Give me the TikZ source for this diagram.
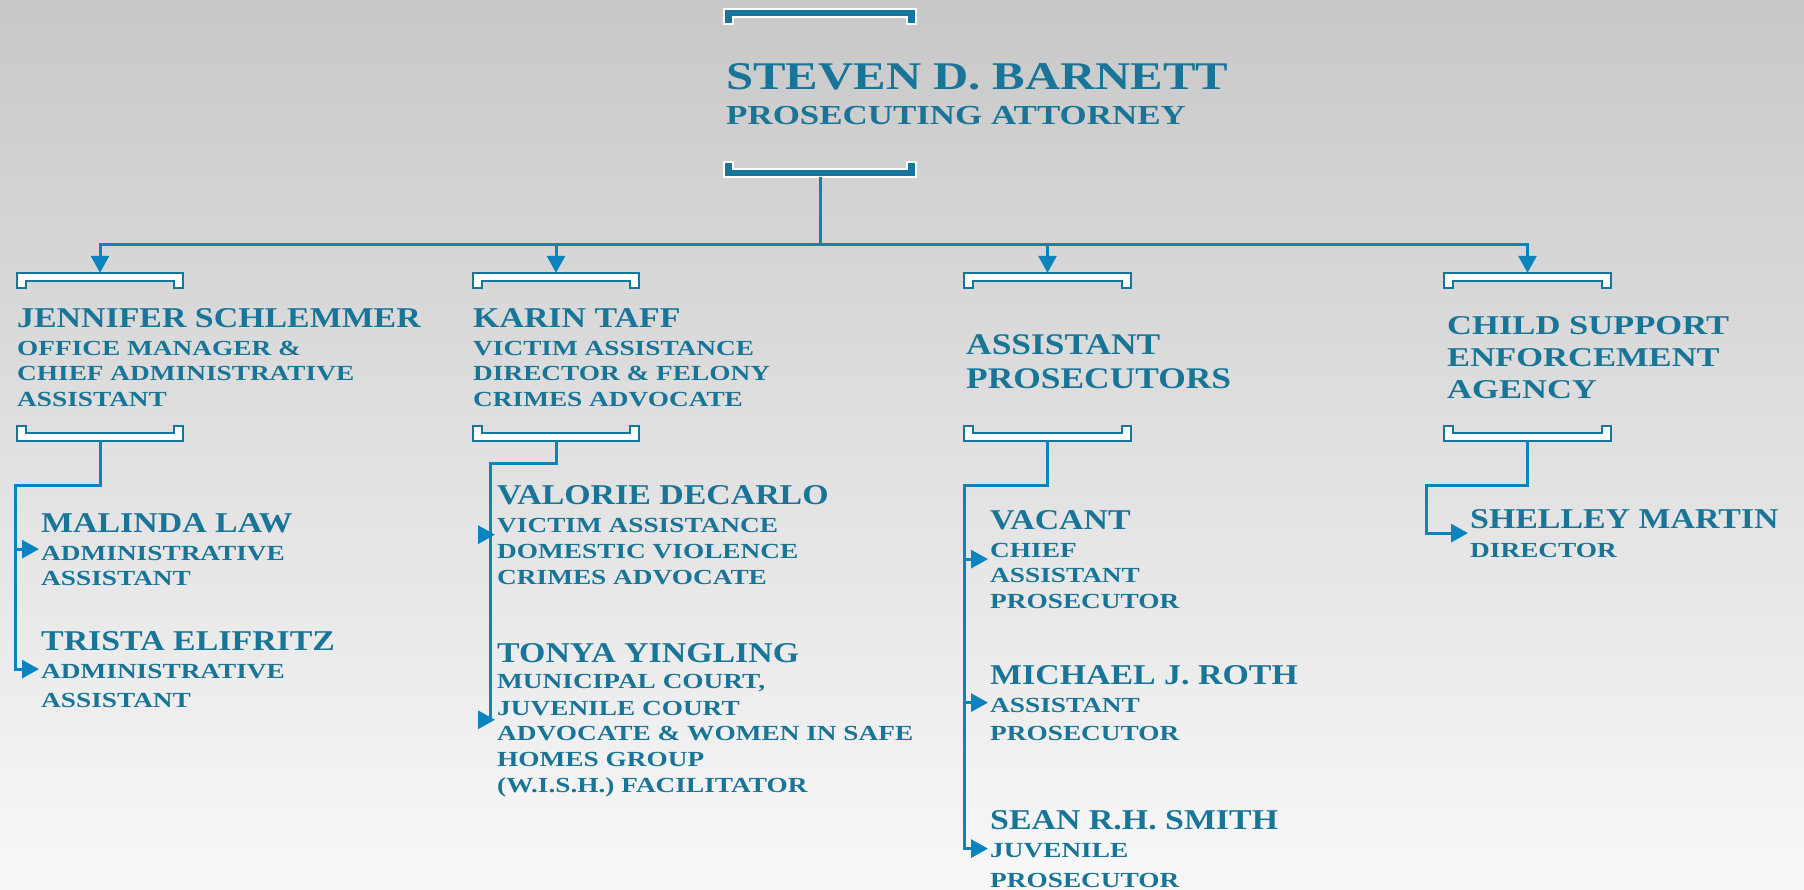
\documentclass[tikz,border=0pt]{standalone}
\usepackage{fontspec}
\setmainfont{Liberation Serif}
\newfontfamily\nameF{Liberation Serif}[FakeStretch=1.18]
\newfontfamily\wideF{Liberation Serif}[FakeStretch=1.27]
\newfontfamily\topFam{Liberation Serif}[FakeStretch=1.24]
\usetikzlibrary{arrows.meta}
\definecolor{textc}{RGB}{24,117,152}
\definecolor{linec}{RGB}{10,131,191}
\definecolor{brkc}{RGB}{21,117,155}
\definecolor{bgtop}{RGB}{200,200,200}
\definecolor{bgbot}{RGB}{248,248,248}
\newcommand\nmF{\nameF\bfseries\fontsize{28.7pt}{30pt}\selectfont}
\newcommand\ttF{\wideF\bfseries\fontsize{21.5pt}{24pt}\selectfont}
\newcommand\topF{\topFam\bfseries\fontsize{39.3pt}{40pt}\selectfont}
\newcommand\subF{\wideF\bfseries\fontsize{27.5pt}{30pt}\selectfont}
\newcommand\hdF{\nameF\bfseries\fontsize{30pt}{32pt}\selectfont}
\newcommand\hwF{\wideF\bfseries\fontsize{27.2pt}{30pt}\selectfont}
\newcommand\Blk[1]{\vtop{\lineskiplimit=-\maxdimen\lineskip=0pt #1}}
\newcommand\HL[3]{\baselineskip=#1pt\hbox{#2#3}}
\newcommand\TopBrk[4]{%
  \node[brbox,#4] (#1) at (#2) {};
  \draw[#3] (#1.north west) -- (#1.north east) -- (#1.south east)
    -- ([xshift=-9pt]#1.south east) -- ([xshift=-9pt,yshift=7pt]#1.south east)
    -- ([xshift=9pt,yshift=7pt]#1.south west) -- ([xshift=9pt]#1.south west)
    -- (#1.south west) -- cycle;}
\newcommand\BotBrk[4]{%
  \node[brbox,#4] (#1) at (#2) {};
  \draw[#3] (#1.south west) -- (#1.south east) -- (#1.north east)
    -- ([xshift=-9pt]#1.north east) -- ([xshift=-9pt,yshift=-7pt]#1.north east)
    -- ([xshift=9pt,yshift=-7pt]#1.north west) -- ([xshift=9pt]#1.north west)
    -- (#1.north west) -- cycle;}
\begin{document}
\begin{tikzpicture}[x=1pt,y=-1pt,
  conn/.style={draw=linec, line width=3pt},
  arr/.style={-{Triangle[length=17pt,width=18pt]}},
  brbox/.style={draw=none, inner sep=0pt, minimum width=166pt, minimum height=15pt},
  brhollow/.style={draw=brkc, fill=white, line width=2pt},
  brsolid/.style={draw=white, fill=brkc, line width=2pt},
  person/.style={anchor=base west, inner xsep=2pt, inner ysep=0pt, text=textc}]
\shade[top color=bgtop, bottom color=bgbot] (0,0) rectangle (1804,889);
\useasboundingbox (0,0) rectangle (1804,889);

% top
\TopBrk{mainT}{820,16.5}{brsolid}{minimum width=192pt}
\BotBrk{mainB}{820,169.5}{brsolid}{minimum width=192pt}
\node[person] (steven) at (724,89) {\Blk{\HL{0}{\topF}{STEVEN D. BARNETT}\HL{35}{\subF}{PROSECUTING ATTORNEY}}};

% level 2 brackets
\TopBrk{b1t}{100,280.5}{brhollow}{}
\BotBrk{b1b}{100,433.5}{brhollow}{}
\TopBrk{b2t}{556,280.5}{brhollow}{}
\BotBrk{b2b}{556,433.5}{brhollow}{}
\TopBrk{b3t}{1047.5,280.5}{brhollow}{}
\BotBrk{b3b}{1047.5,433.5}{brhollow}{}
\TopBrk{b4t}{1527.5,280.5}{brhollow}{}
\BotBrk{b4b}{1527.5,433.5}{brhollow}{}

% level 2 headers
\node[person] (jen) at (15,327) {\Blk{\HL{0}{\nmF}{JENNIFER SCHLEMMER}\HL{28}{\ttF}{OFFICE MANAGER \&}\HL{25}{\ttF}{CHIEF ADMINISTRATIVE}\HL{26}{\ttF}{ASSISTANT}}};
\node[person] (karin) at (471,327) {\Blk{\HL{0}{\nmF}{KARIN TAFF}\HL{28}{\ttF}{VICTIM ASSISTANCE}\HL{25}{\ttF}{DIRECTOR \& FELONY}\HL{26}{\ttF}{CRIMES ADVOCATE}}};
\node[person] (asst) at (964,354) {\Blk{\HL{0}{\hdF}{ASSISTANT}\HL{34}{\hdF}{PROSECUTORS}}};
\node[person] (csea) at (1445,334) {\Blk{\HL{0}{\hwF}{CHILD SUPPORT}\HL{32}{\hwF}{ENFORCEMENT}\HL{32}{\hwF}{AGENCY}}};

% level 3 people
\node[person] (malinda) at (39,532) {\Blk{\HL{0}{\nmF}{MALINDA LAW}\HL{28}{\ttF}{ADMINISTRATIVE}\HL{25}{\ttF}{ASSISTANT}}};
\node[person] (trista) at (39,650) {\Blk{\HL{0}{\nmF}{TRISTA ELIFRITZ}\HL{28}{\ttF}{ADMINISTRATIVE}\HL{29}{\ttF}{ASSISTANT}}};
\node[person] (valorie) at (495,504) {\Blk{\HL{0}{\nmF}{VALORIE DECARLO}\HL{28}{\ttF}{VICTIM ASSISTANCE}\HL{26}{\ttF}{DOMESTIC VIOLENCE}\HL{26}{\ttF}{CRIMES ADVOCATE}}};
\node[person] (tonya) at (495,662) {\Blk{\HL{0}{\nmF}{TONYA YINGLING}\HL{26}{\ttF}{MUNICIPAL COURT,}\HL{27}{\ttF}{JUVENILE COURT}\HL{25}{\ttF}{ADVOCATE \& WOMEN IN SAFE}\HL{26}{\ttF}{HOMES GROUP}\HL{26}{\ttF}{(W.I.S.H.) FACILITATOR}}};
\node[person] (vacant) at (988,529) {\Blk{\HL{0}{\nmF}{VACANT}\HL{28}{\ttF}{CHIEF}\HL{25}{\ttF}{ASSISTANT}\HL{26}{\ttF}{PROSECUTOR}}};
\node[person] (michael) at (988,684) {\Blk{\HL{0}{\nmF}{MICHAEL J. ROTH}\HL{28}{\ttF}{ASSISTANT}\HL{28}{\ttF}{PROSECUTOR}}};
\node[person] (sean) at (988,829) {\Blk{\HL{0}{\nmF}{SEAN R.H. SMITH}\HL{28}{\ttF}{JUVENILE}\HL{30}{\ttF}{PROSECUTOR}}};
\node[person] (shelley) at (1468,528) {\Blk{\HL{0}{\nmF}{SHELLEY MARTIN}\HL{29}{\ttF}{DIRECTOR}}};

% connectors
\coordinate (hub) at (820,244);
\draw[conn] (mainB.south) -- (hub);
\draw[conn,arr] (hub) -| (b1t.north);
\draw[conn,arr] (hub) -| (b2t.north);
\draw[conn,arr] (hub) -| (b3t.north);
\draw[conn,arr] (hub) -| (b4t.north);

\coordinate (k1) at (15,485);
\draw[conn,arr] (b1b.south) |- (k1) |- (trista.west);
\draw[conn,arr] (k1 |- malinda.west) -- (malinda.west);

\coordinate (k2) at (490,463);
\draw[conn,arr] (b2b.south) |- (k2) |- (tonya.west);
\draw[conn,arr] (k2 |- valorie.west) -- (valorie.west);

\coordinate (k3) at (964,485);
\draw[conn,arr] (b3b.south) |- (k3) |- (sean.west);
\draw[conn,arr] (k3 |- vacant.west) -- (vacant.west);
\draw[conn,arr] (k3 |- michael.west) -- (michael.west);

\coordinate (k4) at (1426,485);
\draw[conn,arr] (b4b.south) |- (k4) |- (shelley.west);
\end{tikzpicture}
\end{document}
